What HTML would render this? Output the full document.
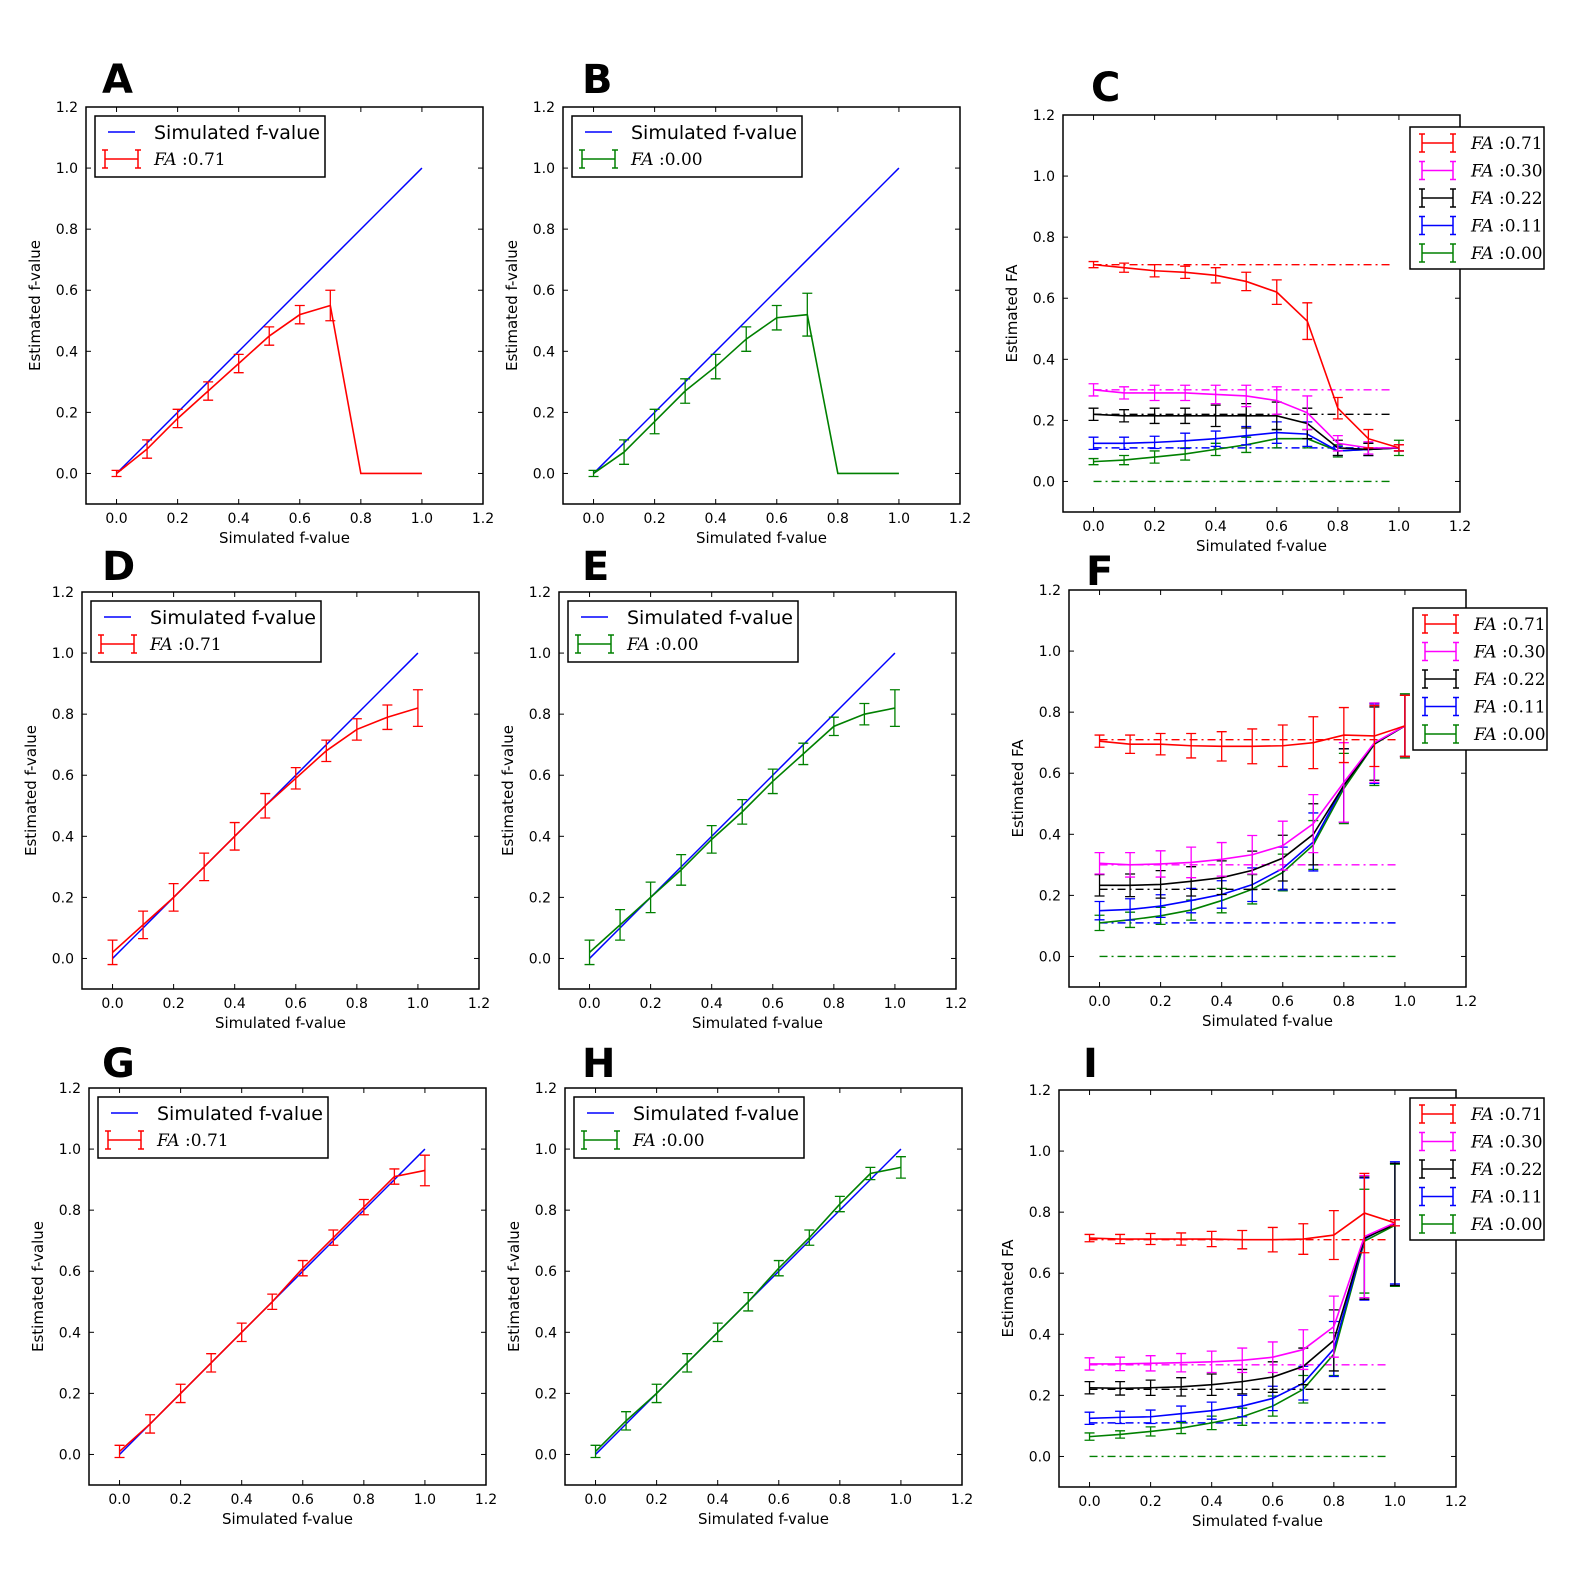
<!DOCTYPE html>
<html><head><meta charset="utf-8">
<style>
html,body{margin:0;padding:0;background:#fff;}
svg{display:block;}
text{font-family:"DejaVu Sans","Liberation Sans",sans-serif;}
text.serif{font-family:"DejaVu Serif","Liberation Serif",serif;}
</style></head>
<body>
<svg id="fig" width="1578" height="1577" viewBox="0 0 1578 1577" xmlns="http://www.w3.org/2000/svg"></svg>
<script>
// ---------- data ----------
const fValues = [0,0.1,0.2,0.3,0.4,0.5,0.6,0.7,0.8,0.9,1.0];
const xTicks = [0.0,0.2,0.4,0.6,0.8,1.0,1.2];
const yTicks = [0.0,0.2,0.4,0.6,0.8,1.0,1.2];
const faLabels = ["0.71","0.30","0.22","0.11","0.00"];
const faTrue = [0.71,0.30,0.22,0.11,0.00];
const faColors = ["#ff0000","#ff00ff","#000000","#0000ff","#008000"];

const aMean = [0,0.08,0.18,0.27,0.36,0.45,0.52,0.55,0,0,0];
const aErr  = [0.01,0.03,0.03,0.03,0.03,0.03,0.03,0.05,0,0,0];
const bMean = [0,0.07,0.17,0.27,0.35,0.44,0.51,0.52,0,0,0];
const bErr  = [0.01,0.04,0.04,0.04,0.04,0.04,0.04,0.07,0,0,0];
const dMean = [0.02,0.11,0.20,0.30,0.40,0.50,0.59,0.68,0.75,0.79,0.82];
const dErr  = [0.04,0.045,0.045,0.045,0.045,0.04,0.035,0.035,0.035,0.04,0.06];
const eMean = [0.02,0.11,0.20,0.29,0.39,0.48,0.58,0.67,0.76,0.80,0.82];
const eErr  = [0.04,0.05,0.05,0.05,0.045,0.04,0.04,0.035,0.03,0.035,0.06];
const gMean = [0.01,0.10,0.20,0.30,0.40,0.50,0.61,0.71,0.81,0.91,0.93];
const gErr  = [0.02,0.03,0.03,0.03,0.03,0.025,0.025,0.025,0.025,0.025,0.05];
const hMean = [0.01,0.11,0.20,0.30,0.40,0.50,0.61,0.71,0.82,0.92,0.94];
const hErr  = [0.02,0.03,0.03,0.03,0.03,0.03,0.025,0.025,0.025,0.02,0.035];

const cMeans = [
 [0.71,0.70,0.69,0.685,0.675,0.655,0.62,0.525,0.24,0.14,0.11],
 [0.30,0.29,0.29,0.29,0.285,0.28,0.265,0.225,0.125,0.11,0.11],
 [0.22,0.215,0.215,0.215,0.215,0.215,0.215,0.19,0.11,0.105,0.11],
 [0.125,0.125,0.128,0.133,0.14,0.15,0.16,0.155,0.10,0.105,0.11],
 [0.065,0.07,0.08,0.09,0.105,0.12,0.14,0.14,0.10,0.105,0.11]];
const cErrs = [
 [0.01,0.015,0.02,0.02,0.025,0.03,0.04,0.06,0.035,0.03,0.01],
 [0.02,0.02,0.025,0.025,0.03,0.035,0.045,0.055,0.025,0.02,0.01],
 [0.02,0.02,0.025,0.025,0.035,0.04,0.045,0.05,0.025,0.02,0.01],
 [0.02,0.02,0.02,0.025,0.025,0.03,0.035,0.04,0.015,0.02,0.01],
 [0.01,0.015,0.02,0.02,0.02,0.025,0.03,0.03,0.02,0.02,0.025]];
const fMeans = [
 [0.705,0.695,0.695,0.69,0.688,0.688,0.69,0.70,0.725,0.722,0.755],
 [0.305,0.30,0.303,0.308,0.318,0.333,0.363,0.435,0.57,0.70,0.755],
 [0.233,0.233,0.236,0.246,0.258,0.282,0.322,0.40,0.56,0.697,0.755],
 [0.15,0.154,0.165,0.183,0.203,0.235,0.288,0.375,0.56,0.697,0.755],
 [0.11,0.12,0.133,0.152,0.183,0.22,0.275,0.365,0.55,0.695,0.755]];
const fErrs = [
 [0.02,0.03,0.035,0.04,0.048,0.057,0.068,0.085,0.09,0.10,0.10],
 [0.035,0.04,0.043,0.05,0.055,0.063,0.08,0.095,0.13,0.13,0.10],
 [0.035,0.037,0.045,0.048,0.055,0.063,0.075,0.1,0.12,0.12,0.10],
 [0.03,0.035,0.037,0.04,0.045,0.055,0.07,0.095,0.12,0.13,0.10],
 [0.025,0.025,0.028,0.033,0.04,0.048,0.06,0.08,0.115,0.135,0.105]];
const iMeans = [
 [0.715,0.712,0.712,0.712,0.712,0.71,0.71,0.712,0.725,0.797,0.765],
 [0.303,0.303,0.305,0.307,0.31,0.315,0.325,0.35,0.425,0.72,0.765],
 [0.225,0.223,0.225,0.228,0.235,0.245,0.26,0.295,0.38,0.715,0.76],
 [0.125,0.128,0.13,0.14,0.15,0.165,0.19,0.24,0.352,0.712,0.765],
 [0.065,0.072,0.082,0.093,0.11,0.13,0.165,0.22,0.335,0.705,0.757]];
const iErrs = [
 [0.012,0.015,0.018,0.02,0.025,0.03,0.04,0.05,0.08,0.13,0.01],
 [0.02,0.022,0.025,0.03,0.035,0.04,0.05,0.065,0.1,0.2,0.01],
 [0.02,0.022,0.025,0.03,0.035,0.04,0.05,0.06,0.1,0.2,0.2],
 [0.02,0.02,0.022,0.025,0.028,0.035,0.04,0.055,0.09,0.2,0.2],
 [0.012,0.012,0.015,0.018,0.022,0.028,0.033,0.045,0.07,0.17,0.2]];

// ---------- layout ----------
const NS = "http://www.w3.org/2000/svg";
const svg = document.getElementById("fig");
function mk(tag, attrs, parent){
  const e = document.createElementNS(NS, tag);
  for (const k in attrs) e.setAttribute(k, attrs[k]);
  (parent||svg).appendChild(e);
  return e;
}
const W = 397, H = 397, XMIN = -0.1, XMAX = 1.2, YMIN = -0.1, YMAX = 1.2;

function makeAxes(letter, L, T, yLabel, lx, ly){
  const g = mk("g", {});
  
  
  const sx = v => L + (v - XMIN) / (XMAX - XMIN) * W;
  const sy = v => T + H - (v - YMIN) / (YMAX - YMIN) * H;
  const lt = mk("text", {x:lx, y:ly, "font-size":40, "font-weight":"bold", fill:"#000"}, g);
  lt.textContent = letter;
  
  
  const frame = mk("rect", {x:L, y:T, width:W, height:H, fill:"none", stroke:"#000", "stroke-width":1.5}, g);
  
  
  for (const t of xTicks){
    const x = sx(t);
    mk("line", {x1:x, y1:T+H, x2:x, y2:T+H-5, stroke:"#000"}, g);
    mk("line", {x1:x, y1:T, x2:x, y2:T+5, stroke:"#000"}, g);
    const tl = mk("text", {x:x, y:T+H+19, "font-size":14, "text-anchor":"middle", fill:"#000"}, g);
    tl.textContent = t.toFixed(1);
    
    
  }
  for (const t of yTicks){
    const y = sy(t);
    mk("line", {x1:L, y1:y, x2:L+5, y2:y, stroke:"#000"}, g);
    mk("line", {x1:L+W, y1:y, x2:L+W-5, y2:y, stroke:"#000"}, g);
    const tl = mk("text", {x:L-8, y:y+5, "font-size":14, "text-anchor":"end", fill:"#000"}, g);
    tl.textContent = t.toFixed(1);
    
    
  }
  const xl = mk("text", {x:L+W/2, y:T+H+39, "font-size":15, "text-anchor":"middle", fill:"#000"}, g);
  xl.textContent = "Simulated f-value";
  
  
  const yx = L-46, yy = T+H/2;
  const yl = mk("text", {x:yx, y:yy, "font-size":15, "text-anchor":"middle", fill:"#000", transform:`rotate(-90 ${yx} ${yy})`}, g);
  yl.textContent = yLabel;
  
  
  return {g, sx, sy, L, T};
}

function errSeries(ax, means, errs, color, name, nBars){
  const pts = fValues.map((f,i)=> ax.sx(f)+","+ax.sy(means[i])).join(" ");
  const pl = mk("polyline", {points:pts, fill:"none", stroke:color, "stroke-width":1.6}, ax.g);
  
  
  for (let i=0;i<fValues.length;i++){
    if (nBars !== undefined && i >= nBars) break;
    const x = ax.sx(fValues[i]), y1 = ax.sy(means[i]-errs[i]), y2 = ax.sy(means[i]+errs[i]);
    const eb = mk("path", {d:`M${x},${y1}V${y2}M${x-5},${y1}H${x+5}M${x-5},${y2}H${x+5}`, stroke:color, "stroke-width":1.3, fill:"none"}, ax.g);
    
    
  }
}
function refLine(ax, v, color){
  const ln = mk("line", {x1:ax.sx(0), x2:ax.sx(0.98), y1:ax.sy(v), y2:ax.sy(v), stroke:color, "stroke-width":1.4, "stroke-dasharray":"8,4,2,4"}, ax.g);
  
  
}
function faText(parent, x, y, label, size){
  const t = mk("text", {x:x, y:y, "font-size":size, fill:"#000", "class":"serif"}, parent);
  const a = mk("tspan", {"font-style":"italic"}, t); a.textContent = "FA";
  const b = mk("tspan", {}, t); b.textContent = " :" + label;
  return t;
}
function simpleLegend(ax, color, label){
  const x = ax.L+9, y = ax.T+9;
  const lg = mk("g", {}, ax.g);
  
  
  mk("rect", {x:x, y:y, width:230, height:61, fill:"#fff", stroke:"#000", "stroke-width":1.5}, lg);
  mk("line", {x1:x+13, x2:x+40, y1:y+16, y2:y+16, stroke:"#0000ff", "stroke-width":1.5}, lg);
  const t1 = mk("text", {x:x+59, y:y+23, "font-size":19, fill:"#000"}, lg);
  t1.textContent = "Simulated f-value";
  
  
  mk("path", {d:`M${x+10},${y+43}H${x+43}M${x+10},${y+34}V${y+52}M${x+43},${y+34}V${y+52}M${x+7},${y+34}H${x+13}M${x+7},${y+52}H${x+13}M${x+40},${y+34}H${x+46}M${x+40},${y+52}H${x+46}`, stroke:color, "stroke-width":1.5, fill:"none"}, lg);
  const t2 = faText(lg, x+59, y+49, label, 17);
  
  
}
function faLegend(x, y){
  const lg = mk("g", {});
  
  
  mk("rect", {x:x, y:y, width:134, height:142, fill:"#fff", stroke:"#000", "stroke-width":1.5}, lg);
  for (let k=0;k<faLabels.length;k++){
    const cy = y+16+k*27.5, c = faColors[k];
    mk("path", {d:`M${x+12},${cy}H${x+43}M${x+12},${cy-9}V${cy+9}M${x+43},${cy-9}V${cy+9}M${x+9},${cy-9}H${x+15}M${x+9},${cy+9}H${x+15}M${x+40},${cy-9}H${x+46}M${x+40},${cy+9}H${x+46}`, stroke:c, "stroke-width":1.5, fill:"none"}, lg);
    const t = faText(lg, x+61, cy+6, faLabels[k], 17);
    
    
  }
}
function identity(ax){
  const ln = mk("line", {x1:ax.sx(0), y1:ax.sy(0), x2:ax.sx(1), y2:ax.sy(1), stroke:"#0000ff", "stroke-width":1.5}, ax.g);
  
  
}

let ax;
ax = makeAxes("A", 86, 107, "Estimated f-value", 102, 93);
identity(ax); errSeries(ax, aMean, aErr, "#ff0000", "fa-071", 8); simpleLegend(ax, "#ff0000", "0.71");
ax = makeAxes("B", 563, 107, "Estimated f-value", 582, 93);
identity(ax); errSeries(ax, bMean, bErr, "#008000", "fa-000", 8); simpleLegend(ax, "#008000", "0.00");
ax = makeAxes("D", 82, 592, "Estimated f-value", 102, 580);
identity(ax); errSeries(ax, dMean, dErr, "#ff0000", "fa-071"); simpleLegend(ax, "#ff0000", "0.71");
ax = makeAxes("E", 559, 592, "Estimated f-value", 582, 580);
identity(ax); errSeries(ax, eMean, eErr, "#008000", "fa-000"); simpleLegend(ax, "#008000", "0.00");
ax = makeAxes("G", 89, 1088, "Estimated f-value", 102, 1077);
identity(ax); errSeries(ax, gMean, gErr, "#ff0000", "fa-071"); simpleLegend(ax, "#ff0000", "0.71");
ax = makeAxes("H", 565, 1088, "Estimated f-value", 582, 1077);
identity(ax); errSeries(ax, hMean, hErr, "#008000", "fa-000"); simpleLegend(ax, "#008000", "0.00");

function multi(letter, L, T, means, errs, lx, ly, legX, legY){
  const a = makeAxes(letter, L, T, "Estimated FA", lx, ly);
  for (let k=0;k<faTrue.length;k++) refLine(a, faTrue[k], faColors[k]);
  for (let k=faTrue.length-1;k>=0;k--) errSeries(a, means[k], errs[k], faColors[k], "fa-" + faLabels[k]);
  faLegend(legX, legY);
}
multi("C", 1063, 115, cMeans, cErrs, 1091, 101, 1410, 127);
multi("F", 1069, 590, fMeans, fErrs, 1086, 585, 1413, 608);
multi("I", 1059, 1090, iMeans, iErrs, 1083, 1077, 1410, 1098);
</script>
</body></html>
